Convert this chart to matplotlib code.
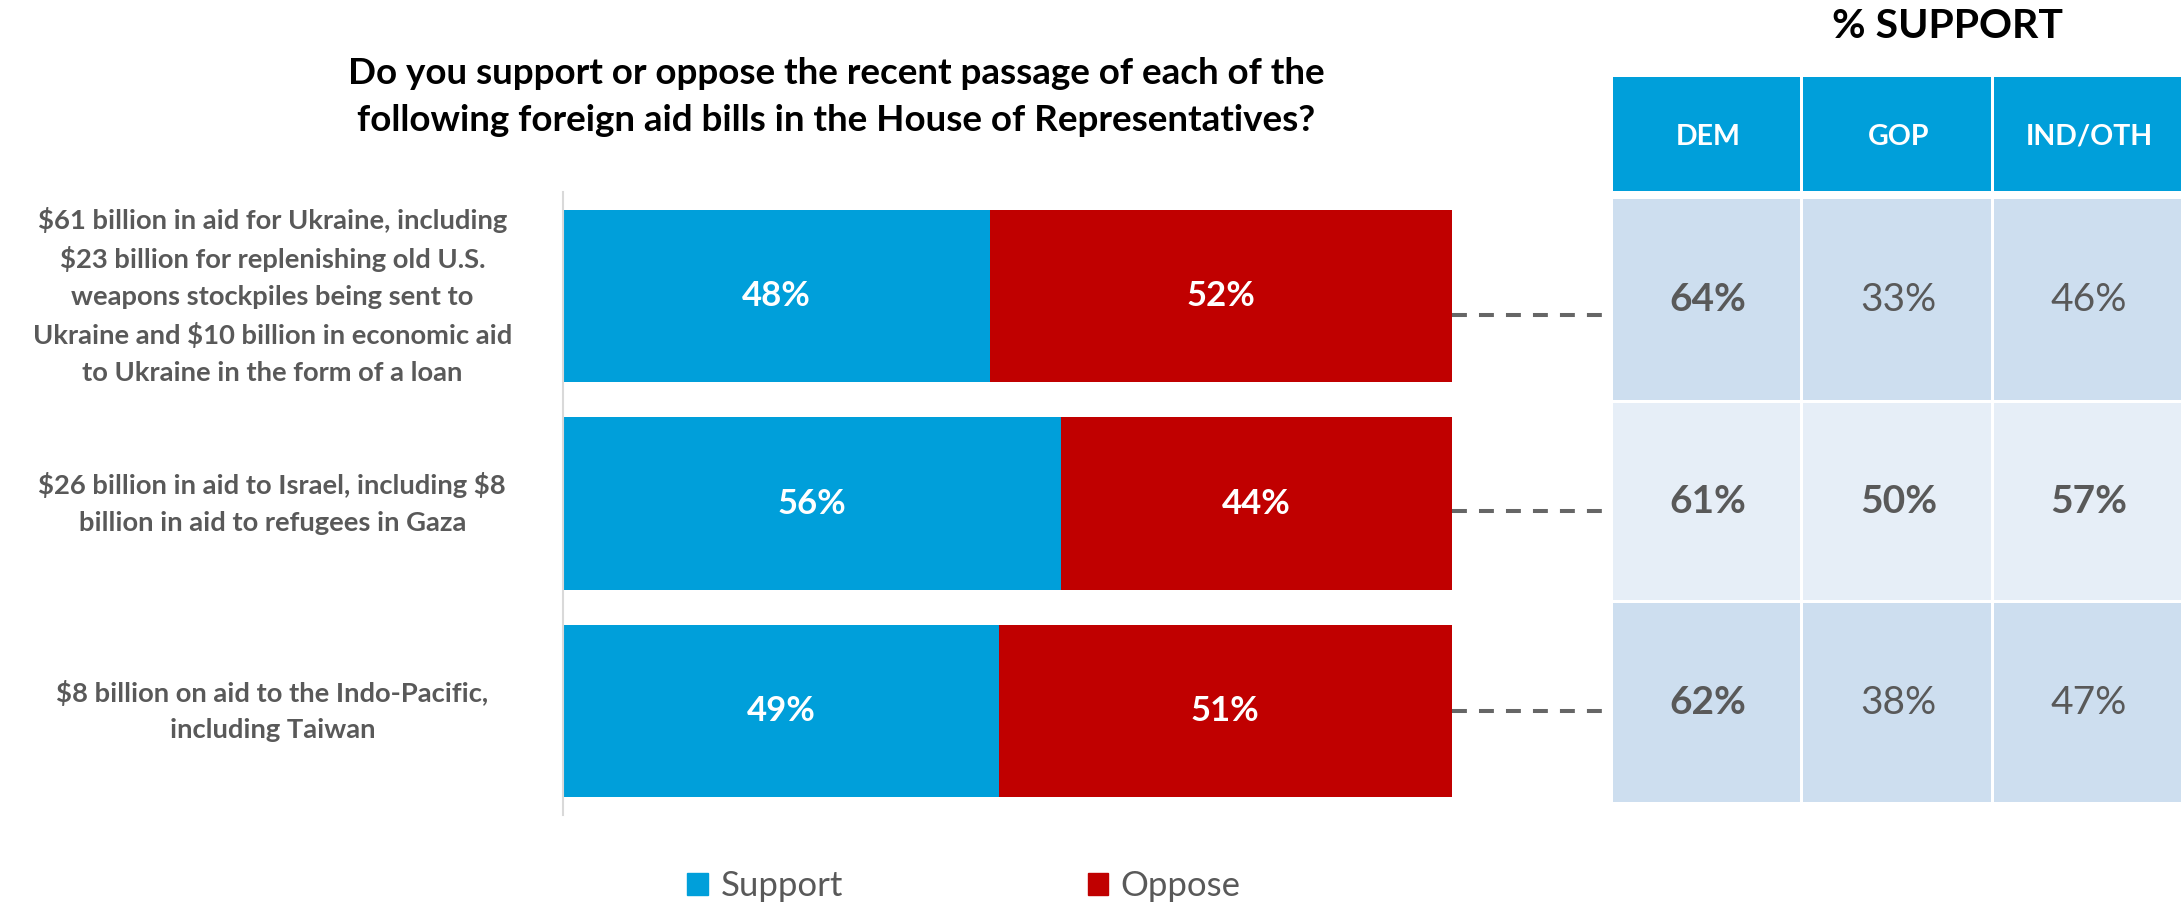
import matplotlib
matplotlib.use("Agg")
import matplotlib.pyplot as plt
from matplotlib.patches import Rectangle, Patch

plt.rcParams['font.family'] = ['Lato', 'DejaVu Sans']

# Données du graphique
questions = [
    "\\$61 billion in aid for Ukraine, including\n\\$23 billion for replenishing old U.S.\nweapons stockpiles being sent to\nUkraine and \\$10 billion in economic aid\nto Ukraine in the form of a loan",
    "\\$26 billion in aid to Israel, including \\$8\nbillion in aid to refugees in Gaza",
    "\\$8 billion on aid to the Indo-Pacific,\nincluding Taiwan",
]
support = [48, 56, 49]
oppose = [52, 44, 51]

parties = ["DEM", "GOP", "IND/OTH"]
dem = [64, 61, 62]
gop = [33, 50, 38]
ind_oth = [46, 57, 47]

titre = ("Do you support or oppose the recent passage of each of the\n"
         "following foreign aid bills in the House of Representatives?")

# Couleurs
bleu = "#009FDA"
rouge = "#C00000"
gris = "#595959"
ligne_claire = "#CDDEEF"
ligne_pale = "#E6EEF7"

W, H = 2184, 905
fig = plt.figure(figsize=(W / 100, H / 100), dpi=100)

# Axe des barres (positions en pixels de la figure)
ax = fig.add_axes([563 / W, 1 - 815 / H, 889 / W, 623 / H])
y = list(range(len(questions)))
ax.barh(y, support, height=0.83, color=bleu, label="Support")
ax.barh(y, oppose, left=support, height=0.83, color=rouge, label="Oppose")
ax.set_xlim(0, 100)
ax.set_ylim(len(questions) - 0.5, -0.5)
ax.set_xticks([])
ax.set_yticks([])
for s in ["top", "right", "bottom"]:
    ax.spines[s].set_visible(False)
ax.spines["left"].set_color("#D9D9D9")
ax.spines["left"].set_linewidth(1.5)

# Étiquettes dans les barres
for i in y:
    ax.text(support[i] / 2, i, f"{support[i]}%", ha="center", va="center",
            color="white", fontsize=25, fontweight="bold")
    ax.text(support[i] + oppose[i] / 2, i, f"{oppose[i]}%", ha="center", va="center",
            color="white", fontsize=25, fontweight="bold")

# Libellés des questions
for i, q in enumerate(questions):
    ax.text(-0.327, i, q, transform=ax.get_yaxis_transform(), ha="center", va="center",
            multialignment="center", color=gris, fontsize=19.7, fontweight="bold",
            linespacing=1.62)

# Pointillés vers le tableau (légèrement décalés vers le bas comme dans l'original)
table_gauche = 1613
x_fin = (1607 - 563) / 889 * 100
decalage = [0.09, 0.036, 0.0]
for i in y:
    ax.plot([support[i] + oppose[i], x_fin], [i + decalage[i], i + decalage[i]],
            color="#666666", lw=2.9, linestyle=(0, (3.7, 3.0)), clip_on=False)

# Titre
fig.text(836 / W, 1 - 97 / H, titre, ha="center", va="center", fontsize=26.5,
         fontweight="bold", color="black", linespacing=1.5)

# Tableau % SUPPORT
axt = fig.add_axes([0, 0, 1, 1], zorder=-1)
axt.set_xlim(0, W)
axt.set_ylim(H, 0)
axt.axis("off")

col_w = (W - table_gauche) / len(parties)
gap = 3
axt.text(1948, 26, "% SUPPORT", ha="center", va="center", fontsize=29.5,
         fontweight="bold", color="black")

entete_haut, entete_bas = 77, 191
for j, p in enumerate(parties):
    x0 = table_gauche + j * col_w
    axt.add_patch(Rectangle((x0, entete_haut), col_w - gap, entete_bas - entete_haut,
                            color=bleu, lw=0))
    axt.text(x0 + col_w / 2, (entete_haut + entete_bas) / 2 + 3, p, ha="center", va="center",
             color="white", fontsize=20.5, fontweight="bold")

lignes_haut = [199, 403, 603]
lignes_bas = [400, 600, 802]
fonds = [ligne_claire, ligne_pale, ligne_claire]
valeurs = [dem, gop, ind_oth]
gras = {(0, 0), (1, 0), (1, 1), (1, 2), (2, 0)}
for i in range(len(questions)):
    for j in range(len(parties)):
        x0 = table_gauche + j * col_w
        axt.add_patch(Rectangle((x0, lignes_haut[i]), col_w - gap,
                                lignes_bas[i] - lignes_haut[i], color=fonds[i], lw=0))
        axt.text(x0 + col_w / 2, (lignes_haut[i] + lignes_bas[i]) / 2,
                 f"{valeurs[j][i]}%", ha="center", va="center", color=gris, fontsize=28,
                 fontweight="bold" if (i, j) in gras else "normal")

# Légende
poignees = [Patch(color=bleu, label="Support"), Patch(color=rouge, label="Oppose")]
fig.legend(handles=poignees, loc="center", bbox_to_anchor=(964 / W, 1 - 886 / H), ncol=2,
           frameon=False, fontsize=25, labelcolor=gris, handlelength=0.6, handleheight=0.6,
           handletextpad=0.35, columnspacing=7.05)

fig.savefig("out.png", dpi=100)
